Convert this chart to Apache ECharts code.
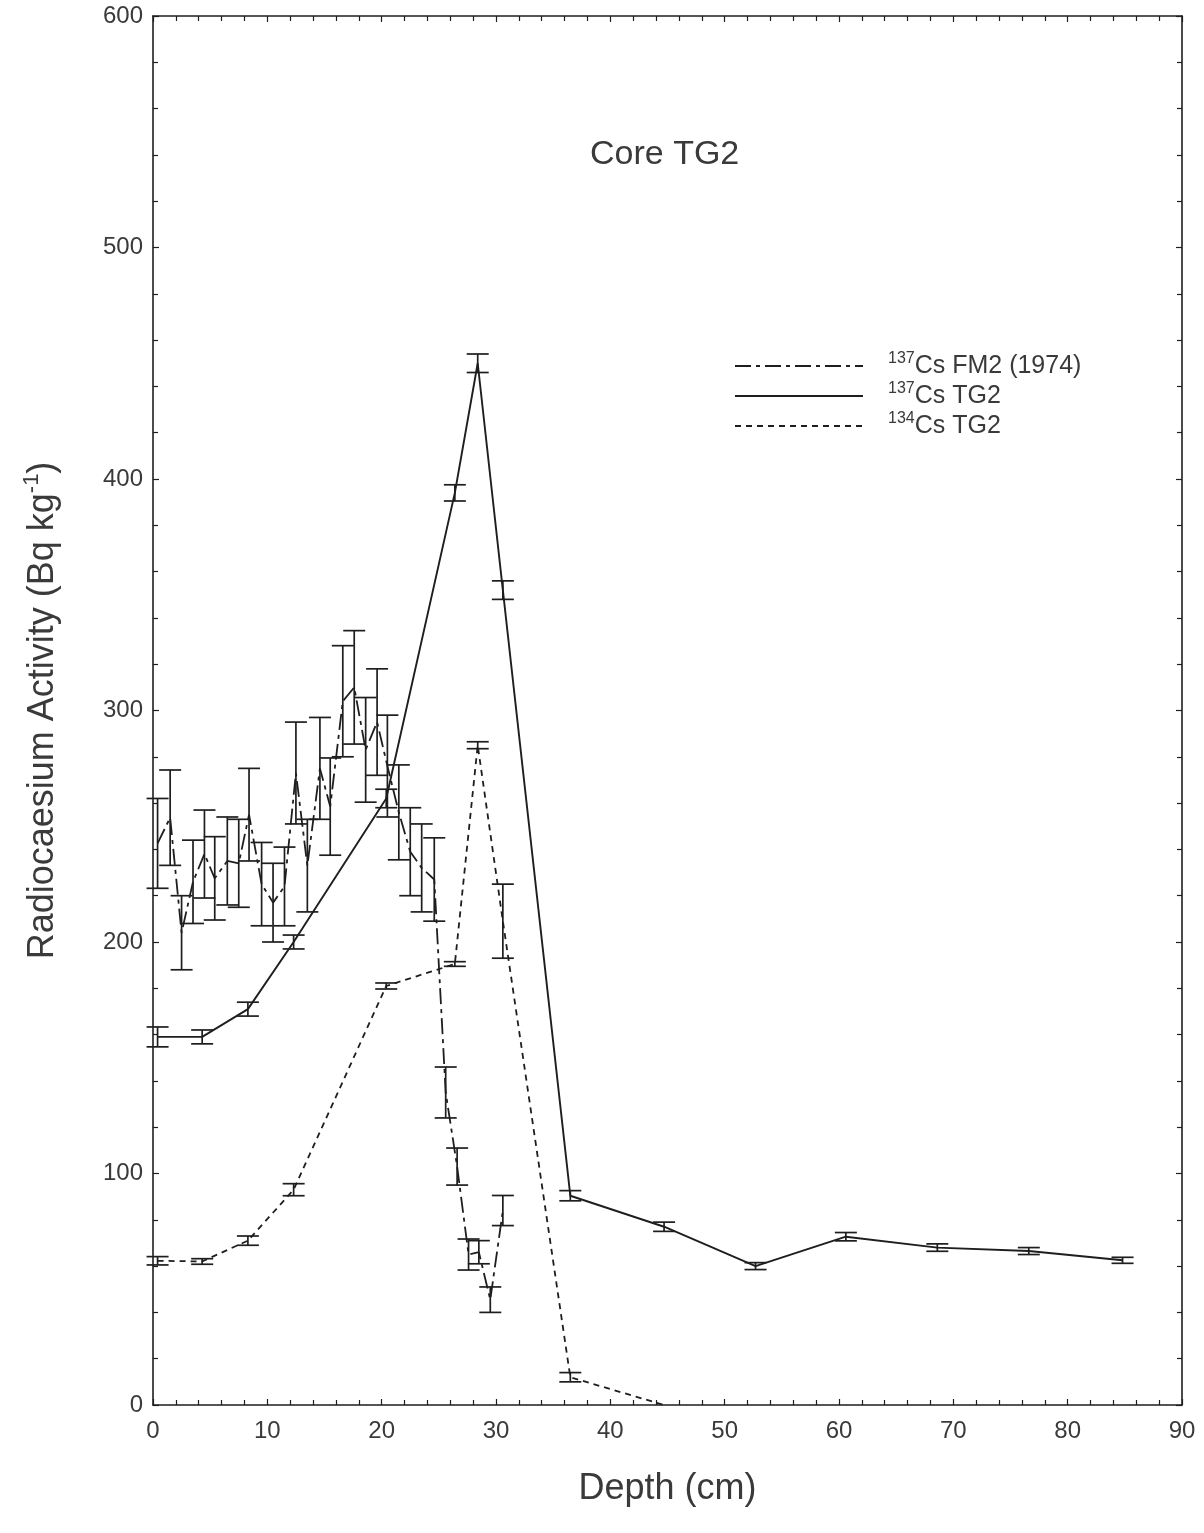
<!DOCTYPE html>
<html><head><meta charset="utf-8">
<script src="https://cdn.jsdelivr.net/npm/echarts@6/dist/echarts.min.js"></script>
<style>html,body{margin:0;padding:0;background:#fff}#c{width:1204px;height:1533px}</style>
</head><body><div id="c"></div>
<script>
// 137Cs FM2 (1974)
const fm2Depth = [0.4, 1.5, 2.5, 3.5, 4.5, 5.4, 6.5, 7.5, 8.4, 9.5, 10.5, 11.5, 12.5, 13.5, 14.6, 15.5, 16.6, 17.6, 18.6, 19.6, 20.5, 21.5, 22.5, 23.5, 24.6, 25.6, 26.6, 27.6, 28.5, 29.5, 30.6];
const fm2Value = [242.6, 253.7, 204, 226, 238, 227.5, 235, 234, 255, 225, 217, 224, 273, 233, 275, 258.5, 304, 310, 283, 295, 276, 256, 239, 232, 227, 135, 103, 65, 66, 45.5, 84];
const fm2Err   = [19.4, 20.6, 16, 18, 19, 18, 19, 19, 20, 18, 17, 17, 22, 20, 22, 21, 24, 24.5, 22.6, 23, 22, 20.5, 19, 19, 18, 11, 8, 6.7, 5, 5.5, 6.5];
// 137Cs TG2
const tg137Depth = [0.4, 4.3, 8.3, 12.3, 20.4, 26.4, 28.4, 30.6, 36.5, 44.7, 52.7, 60.6, 68.6, 76.6, 84.8];
const tg137Value = [159, 159, 171, 200, 262, 394, 450, 352, 90.4, 77, 60, 72.7, 68, 66.5, 62.5];
const tg137Err   = [4.3, 3, 3, 3, 4, 3.5, 4, 4, 2.2, 2, 1.5, 1.8, 1.6, 1.5, 1.3];
// 134Cs TG2
const tg134Depth = [0.4, 4.3, 8.3, 12.3, 20.4, 26.4, 28.4, 30.6, 36.5, 44.7];
const tg134Value = [62.3, 62, 71, 93, 181, 190.5, 285, 209, 12, 0];
const tg134Err   = [1.8, 1.2, 2, 2.6, 1.3, 1, 1.5, 16, 2, 0];
// axes
const xTickInterval = 10, xMin = 0, xMax = 90;
const yTickInterval = 100, yMin = 0, yMax = 600;
const seriesNames = ['137Cs FM2 (1974)', '137Cs TG2', '134Cs TG2'];
const legendParts = {'137Cs FM2 (1974)': ['137', 'Cs FM2 (1974)'], '137Cs TG2': ['137', 'Cs TG2'], '134Cs TG2': ['134', 'Cs TG2']};

const FONT = "'Liberation Sans', Arial, Helvetica, sans-serif";
const INK = '#1e1e1e';
const TXT = '#3a3a3a';

function pairs(d, v) { return d.map((x, i) => [x, v[i]]); }
function errSeries(name, d, v, e, capHalf) {
  return {
    name: name + ' err', type: 'custom', z: 4,
    data: d.map((x, i) => [x, v[i] - e[i], v[i] + e[i], e[i]]),
    encode: {x: 0, y: [1, 2]},
    renderItem: function (params, api) {
      if (api.value(3) <= 0) return null;
      const lo = api.coord([api.value(0), api.value(1)]);
      const hi = api.coord([api.value(0), api.value(2)]);
      const st = {stroke: INK, lineWidth: 1.7};
      return {type: 'group', children: [
        {type: 'line', shape: {x1: lo[0], y1: lo[1], x2: hi[0], y2: hi[1]}, style: st},
        {type: 'line', shape: {x1: lo[0] - capHalf, y1: lo[1], x2: lo[0] + capHalf, y2: lo[1]}, style: st},
        {type: 'line', shape: {x1: hi[0] - capHalf, y1: hi[1], x2: hi[0] + capHalf, y2: hi[1]}, style: st}
      ]};
    }
  };
}

function axisBase(extra) {
  return Object.assign({
    axisLine: {show: true, onZero: false, lineStyle: {color: INK, width: 1.6}},
    axisTick: {show: true, inside: true, length: 6, lineStyle: {color: INK, width: 1.2}},
    minorTick: {show: true, splitNumber: 5, length: 5, lineStyle: {color: INK, width: 1.2}},
    splitLine: {show: false},
    minorSplitLine: {show: false}
  }, extra);
}

const chart = echarts.init(document.getElementById('c'), null, {renderer: 'canvas'});
chart.setOption({
  backgroundColor: '#fff',
  animation: false,
  textStyle: {fontFamily: FONT},
  grid: {left: 153, right: 22, top: 16, bottom: 128},
  xAxis: [
    axisBase({
      type: 'value', position: 'bottom', min: xMin, max: xMax, interval: xTickInterval,
      axisLabel: {fontSize: 24, color: TXT, margin: 14, fontFamily: FONT},
      name: 'Depth (cm)', nameLocation: 'middle', nameGap: 66,
      nameTextStyle: {fontSize: 36, color: TXT, fontFamily: FONT}
    }),
    axisBase({
      type: 'value', position: 'top', min: xMin, max: xMax, interval: xTickInterval,
      axisLabel: {show: false}
    })
  ],
  yAxis: [
    axisBase({
      type: 'value', position: 'left', min: yMin, max: yMax, interval: yTickInterval,
      axisLabel: {fontSize: 24, color: TXT, margin: 10, fontFamily: FONT},
      name: 'Radiocaesium Activity (Bq kg{sup|-1})', nameLocation: 'middle', nameGap: 88, nameRotate: 90,
      nameTextStyle: {fontSize: 36, color: TXT, fontFamily: FONT, lineHeight: 44,
        rich: {sup: {fontSize: 22, color: TXT, fontFamily: FONT, lineHeight: 22, verticalAlign: 'top'}}}
    }),
    axisBase({
      type: 'value', position: 'right', min: yMin, max: yMax, interval: yTickInterval,
      axisLabel: {show: false}
    })
  ],
  legend: {
    show: true, orient: 'vertical', left: 729, top: 346, itemWidth: 128, itemHeight: 14, itemGap: 2.5,
    data: seriesNames, selectedMode: false,
    itemStyle: {color: 'rgba(0,0,0,0)', borderWidth: 0, opacity: 0},
    formatter: function (n) { const p = legendParts[n]; return '{sup|' + p[0] + '}{t|' + p[1] + '}'; },
    textStyle: {color: TXT, padding: [0, 0, 0, 20], rich: {
      sup: {fontSize: 16, color: TXT, fontFamily: FONT, lineHeight: 16, verticalAlign: 'top'},
      t: {fontSize: 25, color: TXT, fontFamily: FONT, lineHeight: 30}
    }}
  },
  graphic: [{
    type: 'text', left: 590, top: 138,
    style: {text: 'Core TG2', fontSize: 34, fill: TXT, fontFamily: FONT}
  }],
  series: [
    {name: seriesNames[0], type: 'line', data: pairs(fm2Depth, fm2Value), symbol: 'none', z: 3,
      lineStyle: {color: INK, width: 1.8, type: [16, 5, 4, 5]}, itemStyle: {color: INK}},
    {name: seriesNames[1], type: 'line', data: pairs(tg137Depth, tg137Value), symbol: 'none', z: 3,
      lineStyle: {color: INK, width: 1.9, type: 'solid'}, itemStyle: {color: INK}},
    {name: seriesNames[2], type: 'line', data: pairs(tg134Depth, tg134Value), symbol: 'none', z: 3,
      lineStyle: {color: INK, width: 1.8, type: [6, 5]}, itemStyle: {color: INK}},
    errSeries('fm2', fm2Depth, fm2Value, fm2Err, 11),
    errSeries('tg137', tg137Depth, tg137Value, tg137Err, 11),
    errSeries('tg134', tg134Depth, tg134Value, tg134Err, 11)
  ]
});
</script></body></html>
